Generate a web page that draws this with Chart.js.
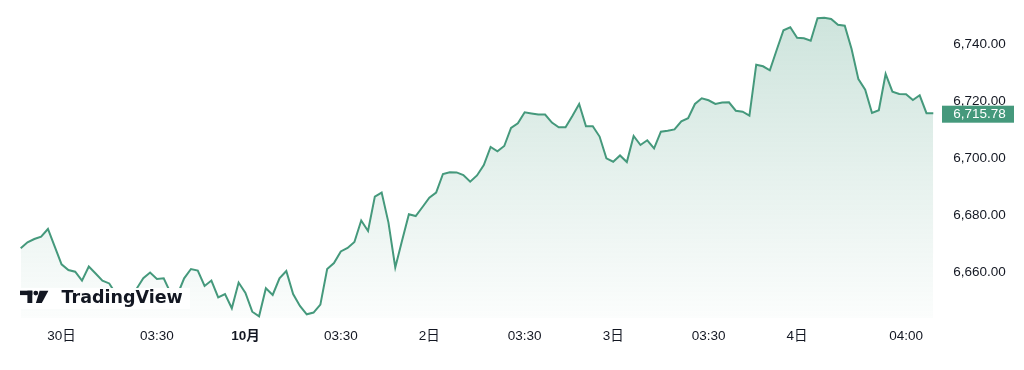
<!DOCTYPE html>
<html>
<head>
<meta charset="utf-8">
<script src="https://cdn.jsdelivr.net/npm/chart.js@4.4.1/dist/chart.umd.min.js"></script>
<style>
  body { margin: 0; background: #fff; }
</style>
</head>
<body>
<canvas id="priceChart" width="1024" height="370"></canvas>
<script>
// Price series (one value per bar)
const prices = [
  6668.5, 6670.6, 6671.75, 6672.6, 6675.25, 6669.1, 6662.9, 6660.9, 6660.3, 6657.2,
  6662.1, 6659.7, 6657.2, 6656.2, 6652.5, 6651.1, 6651.8, 6654.25, 6658.0, 6660.0,
  6657.75, 6658.0, 6652.85, 6652.15, 6658.0, 6661.25, 6660.7, 6655.3, 6657.2, 6651.3,
  6652.5, 6647.5, 6656.5, 6652.9, 6646.3, 6644.7, 6654.5, 6652.15, 6658.0, 6660.55,
  6652.5, 6648.3, 6645.4, 6646.0, 6648.8, 6661.25, 6663.35, 6667.4, 6668.6, 6670.7,
  6678.2, 6674.55, 6686.6, 6688.0, 6677.5, 6661.8, 6671.2, 6680.4, 6679.8, 6682.95,
  6686.2, 6688.0, 6694.5, 6695.1, 6695.05, 6694.15, 6691.8, 6694.0, 6697.65, 6703.95,
  6702.45, 6704.3, 6710.6, 6712.25, 6716.1, 6715.7, 6715.3, 6715.3, 6712.5, 6710.85,
  6710.85, 6714.8, 6719.0, 6711.2, 6711.2, 6707.6, 6700.0, 6698.8, 6701.0, 6698.7,
  6707.8, 6704.65, 6706.3, 6703.5, 6709.3, 6709.65, 6710.1, 6712.95, 6714.0, 6719.0,
  6721.0, 6720.3, 6719.0, 6719.5, 6719.6, 6716.65, 6716.3, 6714.9, 6732.75, 6732.2,
  6730.8, 6737.9, 6744.8, 6745.85, 6742.2, 6742.0, 6741.15, 6749.0, 6749.2, 6748.75,
  6746.75, 6746.4, 6738.25, 6727.7, 6724.0, 6715.85, 6716.8, 6729.5, 6723.3, 6722.5,
  6722.4, 6720.4, 6722.05, 6715.78, 6715.78,
];

// Time axis labels and the bar they sit under
const tickIndex = [6, 20, 33, 47, 60, 74, 87, 101, 114, 130];
const tickLabels = ["30日", "03:30", "10月", "03:30", "2日", "03:30", "3日", "03:30", "4日", "04:00"];

// Price axis labels
const yTicks = [6660, 6680, 6700, 6720, 6740];

const categories = prices.map((p, i) => {
  const k = tickIndex.indexOf(i);
  return k >= 0 ? tickLabels[k] : "";
});

const lineColor = "rgb(69, 153, 124)";
const textColor = "#131722";
const fontFamily = "'Liberation Sans', Arial, 'Noto Sans CJK JP', sans-serif";

const fmt = (v) => v.toLocaleString("en-US", { minimumFractionDigits: 2, maximumFractionDigits: 2 });

// Last price tag on the right axis
const lastPriceTag = {
  id: "lastPriceTag",
  afterDraw(chart) {
    const { ctx, chartArea, scales } = chart;
    const last = prices[prices.length - 1];
    const py = scales.y.getPixelForValue(last);
    ctx.save();
    ctx.fillStyle = lineColor;
    ctx.fillRect(chartArea.right + 8.7, py - 7.5, 72, 17);
    ctx.fillStyle = "#ffffff";
    ctx.font = "13.5px " + fontFamily;
    ctx.textBaseline = "middle";
    ctx.textAlign = "left";
    ctx.fillText(fmt(last), chartArea.right + 20, py + 1.2);
    ctx.restore();
  },
};

// TradingView watermark, bottom left
const watermark = {
  id: "watermark",
  afterDatasetsDraw(chart) {
    const { ctx } = chart;
    ctx.save();
    ctx.fillStyle = "rgba(255, 255, 255, 0.97)";
    ctx.fillRect(18, 288, 172, 21);
    ctx.fillStyle = textColor;
    ctx.fillRect(20, 290.7, 12.3, 4.4);
    ctx.fillRect(27.4, 290.7, 4.9, 12.3);
    ctx.beginPath();
    ctx.arc(35.8, 293.1, 2.4, 0, Math.PI * 2);
    ctx.fill();
    ctx.beginPath();
    ctx.moveTo(39.6, 290.7);
    ctx.lineTo(48.4, 290.7);
    ctx.lineTo(41.8, 303);
    ctx.lineTo(35.9, 303);
    ctx.closePath();
    ctx.fill();
    ctx.font = "bold 17.5px 'DejaVu Sans'";
    ctx.textBaseline = "alphabetic";
    ctx.fillText("TradingView", 61.5, 303);
    ctx.restore();
  },
};

const priceChart = new Chart(document.getElementById("priceChart"), {
  type: "line",
  data: {
    labels: categories,
    datasets: [
      {
        data: prices,
        borderColor: lineColor,
        borderWidth: 2,
        pointRadius: 0,
        tension: 0,
        fill: "start",
        backgroundColor: (context) => {
          const { ctx, chartArea } = context.chart;
          if (!chartArea) return "rgba(69, 153, 124, 0.1)";
          const g = ctx.createLinearGradient(0, chartArea.top, 0, chartArea.bottom);
          g.addColorStop(0, "rgba(69, 153, 124, 0.27)");
          g.addColorStop(1, "rgba(69, 153, 124, 0.02)");
          return g;
        },
      },
    ],
  },
  options: {
    responsive: false,
    animation: false,
    layout: {
      padding: { top: 10, left: 20.7, right: 0, bottom: 0 },
    },
    scales: {
      x: {
        offset: false,
        grid: { display: false, drawTicks: false },
        border: { display: false },
        afterFit: (scale) => { scale.height = 52; },
        ticks: {
          autoSkip: false,
          maxRotation: 0,
          padding: 10,
          color: textColor,
          callback: (val, i) => categories[i],
          font: (ctx) => ({
            family: fontFamily,
            size: 13.5,
            weight: ctx.index === tickIndex[2] ? "bold" : "normal",
          }),
        },
      },
      y: {
        position: "right",
        min: 6644.1,
        max: 6751.9,
        grid: { display: false, drawTicks: true, tickLength: 20 },
        border: { display: false },
        afterFit: (scale) => { scale.width = 90.7; },
        afterBuildTicks: (scale) => { scale.ticks = yTicks.map((v) => ({ value: v })); },
        ticks: {
          padding: 0,
          color: textColor,
          font: { family: fontFamily, size: 13.5 },
          callback: (v) => fmt(v),
        },
      },
    },
    plugins: {
      legend: { display: false },
      tooltip: { enabled: false },
    },
  },
  plugins: [watermark, lastPriceTag],
});
</script>
</body>
</html>
